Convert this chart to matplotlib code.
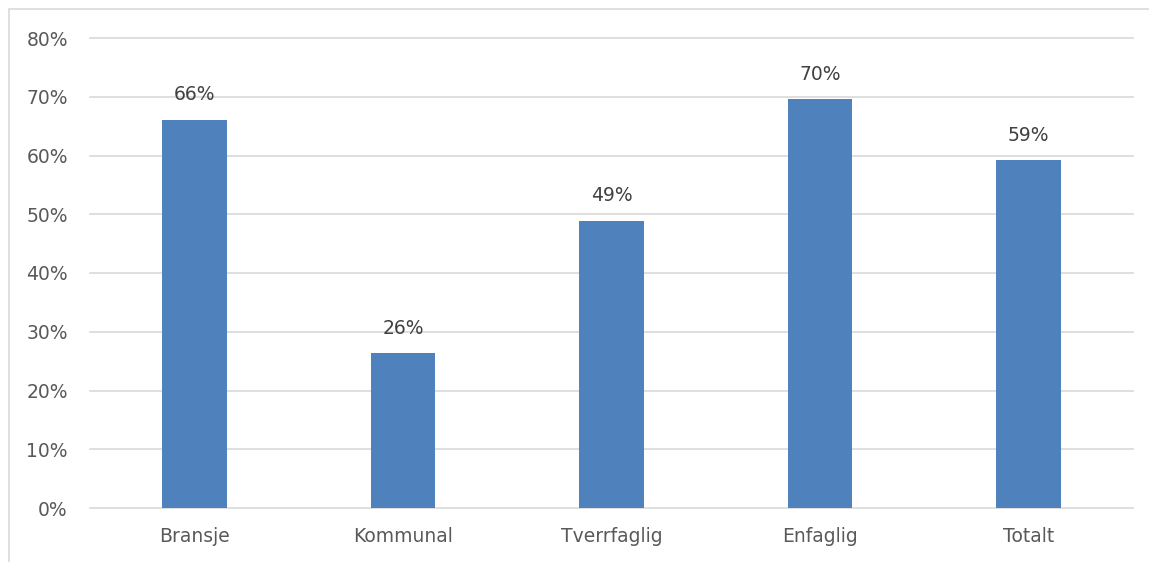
import matplotlib
matplotlib.use("Agg")
import matplotlib.pyplot as plt
from matplotlib.patches import Rectangle

categories = ["Bransje", "Kommunal", "Tverrfaglig", "Enfaglig", "Totalt"]
values = [66.1, 26.4, 48.9, 69.6, 59.2]
labels = ["66%", "26%", "49%", "70%", "59%"]
yticks = [0, 10, 20, 30, 40, 50, 60, 70, 80]

text_col = "#595959"
bar_col = "#4F81BD"

fig = plt.figure(figsize=(11.49, 5.62), dpi=100)
ax = fig.add_axes([90 / 1149, 54 / 562, 1043 / 1149, 470 / 562])

x = range(len(categories))
bars = ax.bar(x, values, width=0.31, color=bar_col, zorder=3)

for b, lab in zip(bars, labels):
    ax.annotate(lab, (b.get_x() + b.get_width() / 2, b.get_height()),
                xytext=(0, 11), textcoords="offset points",
                ha="center", va="bottom", fontsize=13.5, color="#404040")

ax.set_xlim(-0.5, len(categories) - 0.5)
ax.set_ylim(0, 80)
ax.set_yticks(yticks)
ax.set_yticklabels([f"{t}%" for t in yticks])
ax.set_xticks(list(x))
ax.set_xticklabels(categories)
ax.tick_params(axis="both", length=0, labelsize=13.5, labelcolor=text_col)
ax.tick_params(axis="y", pad=16)
ax.tick_params(axis="x", pad=14)

ax.grid(axis="y", color="#D9D9D9", linewidth=1.2, zorder=0)
for gl in ax.get_ygridlines():
    gl.set_clip_on(False)
for s in ax.spines.values():
    s.set_visible(False)

# chart area border (only top/left visible in the crop)
fig.patches.append(Rectangle((8.5 / 1149, -0.1), 1.2, 1.1 - 8.5 / 562,
                             transform=fig.transFigure, fill=False,
                             edgecolor="#D9D9D9", linewidth=1.2))

fig.savefig("out.png", dpi=100)
